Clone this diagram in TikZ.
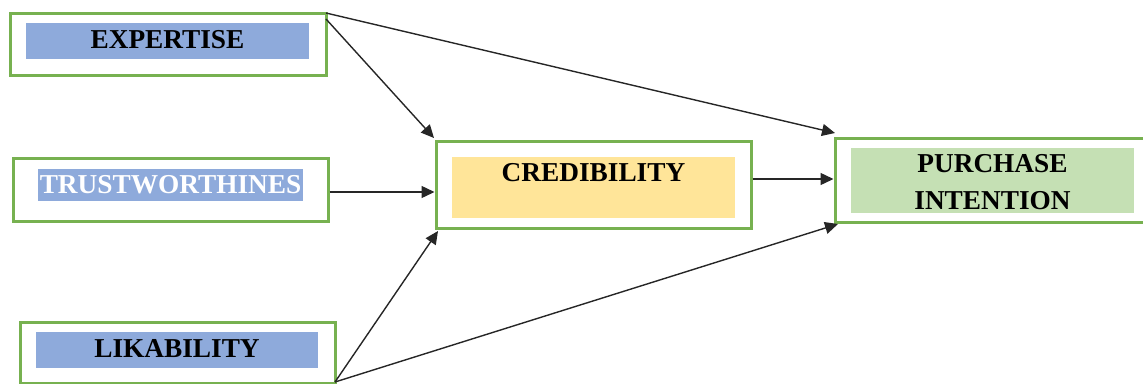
\documentclass[tikz,border=0pt]{standalone}
\usepackage{fontspec}
\setmainfont{Liberation Serif}
\usetikzlibrary{arrows.meta}
\definecolor{gborder}{HTML}{77B150}
\definecolor{bfill}{HTML}{8EAADB}
\definecolor{yfill}{HTML}{FFE599}
\definecolor{gfill}{HTML}{C5E0B4}
\tikzset{
  outerbox/.style={draw=gborder, line width=3pt, fill=white, inner sep=0pt, rectangle},
  innerbox/.style={inner sep=0pt, rectangle, draw=none},
  lbl/.style={font=\fontsize{27.3}{32}\selectfont\bfseries, inner sep=0pt, align=center},
  conn/.style={draw=black!85, line width=1.4pt, -{Triangle[length=13pt,width=12pt]}}
}
\begin{document}
\begin{tikzpicture}[x=1pt,y=-1pt]
\useasboundingbox (0,0) rectangle (1143,383);
% outer boxes
\node[outerbox, minimum width=316pt, minimum height=62pt] (exp) at (168,44) {};
\node[outerbox, minimum width=315pt, minimum height=63pt] (tru) at (170.5,189.5) {};
\node[outerbox, minimum width=315pt, minimum height=61pt] (lik) at (177.5,352.5) {};
\node[outerbox, minimum width=315pt, minimum height=87pt] (cred) at (593.5,184.5) {};
\node[outerbox, minimum width=310pt, minimum height=84pt] (pur) at (990,180) {};
% inner fills
\node[innerbox, fill=bfill, minimum width=283pt, minimum height=36pt] (expin) at (167.5,41) {};
\node[innerbox, fill=bfill, minimum width=265pt, minimum height=32pt] (truin) at (170.5,185) {};
\node[innerbox, fill=bfill, minimum width=282pt, minimum height=36pt] (likin) at (177,350) {};
\node[innerbox, fill=yfill, minimum width=283pt, minimum height=61pt] (credin) at (593.5,187.5) {};
\node[innerbox, fill=gfill, minimum width=283pt, minimum height=65pt] (purin) at (992.5,180.5) {};
% labels
\node[lbl] (expt) at (167.5,40) {EXPERTISE};
\node[lbl, text=white] (trut) at (170.5,185) {TRUSTWORTHINES};
\node[lbl] (likt) at (177,349) {LIKABILITY};
\node[lbl] (credt) at (593.5,173) {CREDIBILITY};
\node[lbl] (purt1) at (992.5,164) {PURCHASE};
\node[lbl] (purt2) at (992.5,201) {INTENTION};
% connector end points
\coordinate (e1) at (326,13);
\coordinate (e2) at (326,19);
\coordinate (l1) at (335,382);
\coordinate (cTL) at (434,138);
\coordinate (cBL) at (438,231);
\coordinate (pTL) at (835,133);
\coordinate (pBL) at (838,224);
% connectors
\draw[conn] (e1) -- (pTL);
\draw[conn] (e2) -- (cTL);
\draw[conn] (tru.east |- 0,192) -- (cred.west |- 0,192);
\draw[conn] (l1) -- (cBL);
\draw[conn] (l1) -- (pBL);
\draw[conn] (cred.east |- 0,179) -- (pur.west |- 0,179);
\end{tikzpicture}
\end{document}
